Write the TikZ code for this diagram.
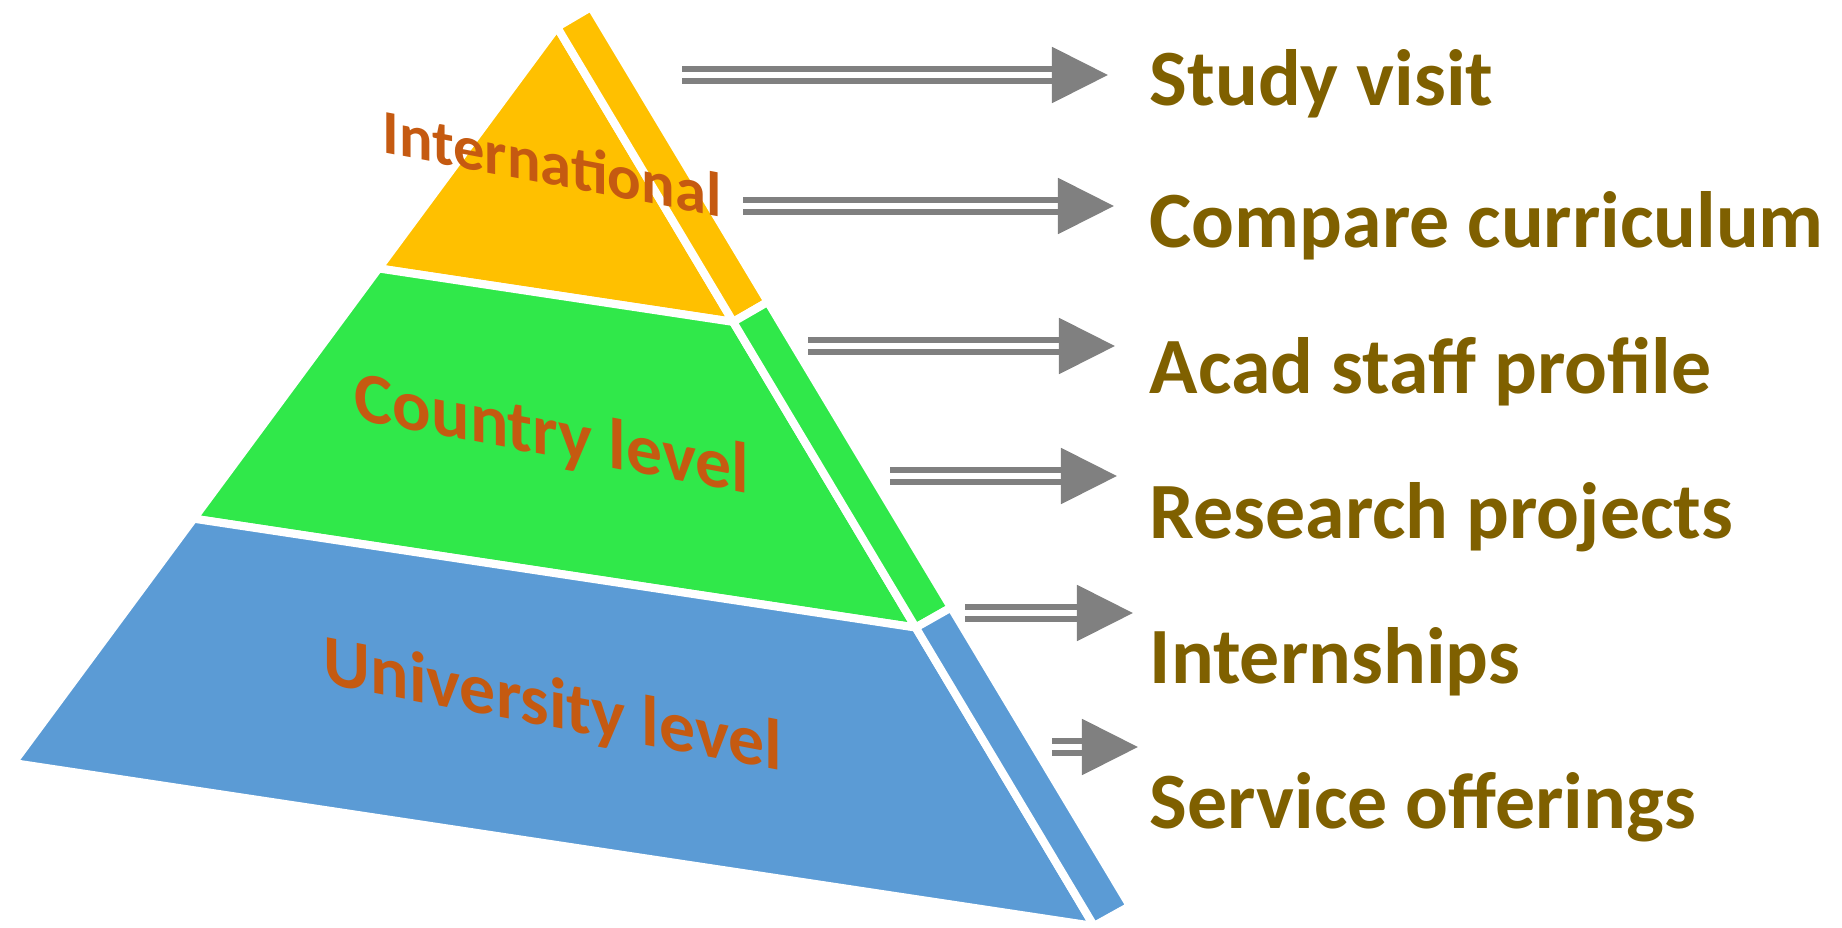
\documentclass[tikz,border=0pt]{standalone}
\usepackage{fontspec}
\setmainfont{Carlito}
\usetikzlibrary{arrows.meta}
\usetikzlibrary{calc}

\definecolor{topcol}{HTML}{FFC000}
\definecolor{midcol}{HTML}{30E84A}
\definecolor{lowcol}{HTML}{5B9BD5}
\definecolor{levelcol}{HTML}{C55A11}
\definecolor{itemcol}{HTML}{7F6000}
\definecolor{arrowcol}{HTML}{808080}

\tikzset{
  face/.style={draw=white,line width=2.3pt,line join=round},
  level/.style={text=levelcol,font=\bfseries\fontsize{20.4}{24}\selectfont,yslant=-0.19,inner sep=0pt},
  item/.style={text=itemcol,font=\bfseries\fontsize{22.7}{27}\selectfont,anchor=base west,inner sep=0pt},
  dblarrow/.style={draw=arrowcol,line width=1.55pt,double=white,double distance=1.9pt,-{Triangle[length=0.56cm,width=0.55cm]}}
}

\begin{document}
\begin{tikzpicture}[x=0.01cm,y=-0.01cm]
\useasboundingbox (0,0) rectangle (1842,927);
% corners of the pyramid
\coordinate (P) at (557,27);
\coordinate (L) at (13,763);
\coordinate (Q) at (1094,926);
\coordinate (T) at (591,7);
\coordinate (B) at (1130,906);
% front face
\filldraw[face,fill=topcol] (P) -- ($(P)!0.328!(L)$) -- ($(P)!0.328!(Q)$) -- cycle;
\filldraw[face,fill=midcol] ($(P)!0.328!(L)$) -- ($(P)!0.668!(L)$) -- ($(P)!0.668!(Q)$) -- ($(P)!0.328!(Q)$) -- cycle;
\filldraw[face,fill=lowcol] ($(P)!0.668!(L)$) -- (L) -- (Q) -- ($(P)!0.668!(Q)$) -- cycle;
% side face
\filldraw[face,fill=topcol] (P) -- (T) -- ($(T)!0.328!(B)$) -- ($(P)!0.328!(Q)$) -- cycle;
\filldraw[face,fill=midcol] ($(P)!0.328!(Q)$) -- ($(T)!0.328!(B)$) -- ($(T)!0.668!(B)$) -- ($(P)!0.668!(Q)$) -- cycle;
\filldraw[face,fill=lowcol] ($(P)!0.668!(Q)$) -- ($(T)!0.668!(B)$) -- (B) -- (Q) -- cycle;

\node[level,font=\bfseries\fontsize{17.8}{21}\selectfont] (intl) at (552,163) {International};
\node[level] (country) at (552,437) {Country level};
\node[level] (univ) at (553,708) {University level};

\node[item] (visit) at (1149,105) {Study visit};
\node[item] (curric) at (1149,247) {Compare curriculum};
\node[item] (staff) at (1149,393) {Acad staff profile};
\node[item] (research) at (1149,538) {Research projects};
\node[item] (intern) at (1149,683) {Internships};
\node[item] (service) at (1149,828) {Service offerings};

% arrows
\coordinate (a1) at (682,75);
\coordinate (b1) at (1108,75);
\coordinate (a2) at (743,206);
\coordinate (b2) at (1114,206);
\coordinate (a3) at (808,346);
\coordinate (b3) at (1115,346);
\coordinate (a4) at (890,476);
\coordinate (b4) at (1117,476);
\coordinate (a5) at (965,613);
\coordinate (b5) at (1133,613);
\coordinate (a6) at (1052,747);
\coordinate (b6) at (1138,747);
\draw[dblarrow] (a1) -- (b1);
\draw[dblarrow] (a2) -- (b2);
\draw[dblarrow] (a3) -- (b3);
\draw[dblarrow] (a4) -- (b4);
\draw[dblarrow] (a5) -- (b5);
\draw[dblarrow] (a6) -- (b6);
\end{tikzpicture}
\end{document}
